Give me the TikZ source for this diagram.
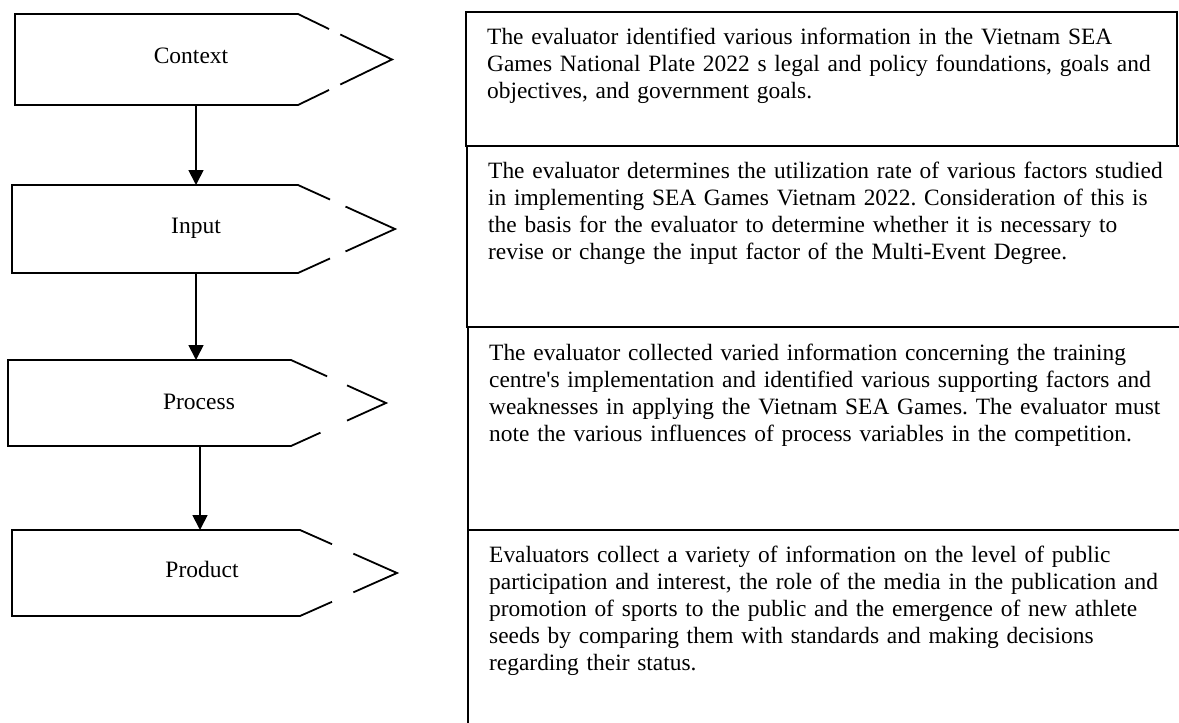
\documentclass[tikz,border=0pt]{standalone}
\usepackage{fontspec}
\setmainfont{Liberation Serif}
\usetikzlibrary{arrows.meta,calc}
\frenchspacing
\begin{document}
\begin{tikzpicture}[x=1pt,y=-1pt,
  outline/.style={line width=1.8pt, line join=miter},
  flow/.style={line width=1.8pt, -{Triangle[width=15pt,length=15pt]}},
  stagelabel/.style={font=\fontsize{23.5}{27}\selectfont, inner sep=0pt, anchor=base},
  desc/.style={font=\fontsize{23.4}{27}\selectfont, inner sep=0pt, anchor=north west, text width=688pt, align=left},
  boxline/.style={line width=1.9pt, line join=miter}]
\useasboundingbox (0,0) rectangle (1179,723);
\clip (0,0) rectangle (1179,723);

% ---- Context shape
\draw[outline] ($(298,14)!0.33!(392,59.5)$) -- (298,14) -- (15,14) -- (15,105) -- (298,105) -- ($(298,105)!0.33!(392,59.5)$);
\draw[outline] ($(298,14)!0.45!(392,59.5)$) -- (392,59.5) -- ($(298,105)!0.45!(392,59.5)$);
\node[stagelabel] (context) at (191,63) {Context};

% ---- Input shape
\draw[outline] ($(298,185)!0.33!(395,229)$) -- (298,185) -- (12,185) -- (12,273) -- (298,273) -- ($(298,273)!0.33!(395,229)$);
\draw[outline] ($(298,185)!0.49!(395,229)$) -- (395,229) -- ($(298,273)!0.49!(395,229)$);
\node[stagelabel] (input) at (196,233) {Input};

% ---- Process shape
\draw[outline] ($(291,360)!0.38!(386,403)$) -- (291,360) -- (8,360) -- (8,446) -- (291,446) -- ($(291,446)!0.31!(386,403)$);
\draw[outline] ($(291,360)!0.59!(386,403)$) -- (386,403) -- ($(291,446)!0.59!(386,403)$);
\node[stagelabel] (process) at (199,409) {Process};

% ---- Product shape
\draw[outline] ($(300,530)!0.33!(397,573)$) -- (300,530) -- (12,530) -- (12,616) -- (300,616) -- ($(300,616)!0.33!(397,573)$);
\draw[outline] ($(300,530)!0.55!(397,573)$) -- (397,573) -- ($(300,616)!0.55!(397,573)$);
\node[stagelabel] (product) at (202,577) {Product};

% ---- connector end points
\coordinate (contextbottom) at (196,105);
\coordinate (inputtop) at (196,185);
\coordinate (inputbottom) at (196,273);
\coordinate (processtop) at (196,360);
\coordinate (processbottom) at (200,446);
\coordinate (producttop) at (200,530);
\draw[flow] (contextbottom) -- (inputtop);
\draw[flow] (inputbottom) -- (processtop);
\draw[flow] (processbottom) -- (producttop);

% ---- description boxes
\draw[boxline] (466,12) rectangle (1177,146);
\draw[boxline] (1190,146) -- (467,146) -- (467,327) -- (1190,327);
\draw[boxline] (1190,327) -- (468,327) -- (468,530) -- (1190,530);
\draw[boxline] (1190,530) -- (468,530) -- (468,740);

\node[desc] (contextdesc) at (487,25.1) {\strut The evaluator identified various information in the Vietnam SEA\\
Games National Plate 2022 s legal and policy foundations, goals and\\
objectives, and government goals.};
\node[desc] (inputdesc) at (488,159.1) {\strut The evaluator determines the utilization rate of various factors studied\\
in implementing SEA Games Vietnam 2022. Consideration of this is\\
the basis for the evaluator to determine whether it is necessary to\\
revise or change the input factor of the Multi-Event Degree.};
\node[desc] (processdesc) at (489,341.1) {\strut The evaluator collected varied information concerning the training\\
centre\textquotesingle s implementation and identified various supporting factors and\\
weaknesses in applying the Vietnam SEA Games. The evaluator must\\
note the various influences of process variables in the competition.};
\node[desc] (productdesc) at (489,543.1) {\strut Evaluators collect a variety of information on the level of public\\
participation and interest, the role of the media in the publication and\\
promotion of sports to the public and the emergence of new athlete\\
seeds by comparing them with standards and making decisions\\
regarding their status.};
\end{tikzpicture}
\end{document}
